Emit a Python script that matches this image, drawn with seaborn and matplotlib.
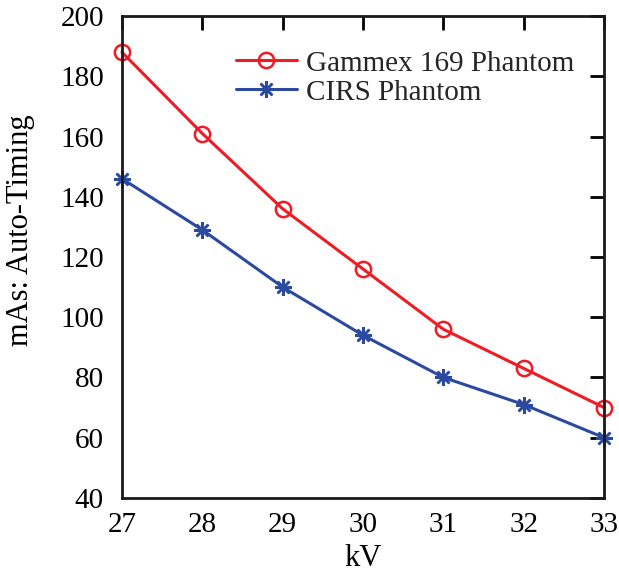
import matplotlib
matplotlib.use("Agg")
import matplotlib.pyplot as plt
import seaborn as sns
import pandas as pd

kv = [27, 28, 29, 30, 31, 32, 33]
gammex = [188, 161, 136, 116, 96, 83, 70]
cirs = [146, 129, 110, 94, 80, 71, 60]
series_names = ["Gammex 169 Phantom", "CIRS Phantom"]
x_ticks = [27, 28, 29, 30, 31, 32, 33]
y_ticks = [40, 60, 80, 100, 120, 140, 160, 180, 200]

sns.set_theme(style="white")
plt.rcParams['font.family'] = ['Liberation Serif', 'DejaVu Serif']

df = pd.DataFrame({
    "kV": kv * 2,
    "mAs": gammex + cirs,
    "series": [series_names[0]] * len(kv) + [series_names[1]] * len(kv),
})

fig = plt.figure(figsize=(6.19, 5.73), dpi=100)
ax = fig.add_axes([0.197, 0.131, 0.779, 0.841])

red = "#ee1c24"
blue = "#2b4a9f"
FS = 21

sns.lineplot(data=df[df.series == series_names[0]], x="kV", y="mAs", ax=ax,
             color=red, lw=2.2, marker="o", markersize=11, markerfacecolor="none",
             markeredgecolor=red, markeredgewidth=1.8, label=series_names[0],
             clip_on=False)
sns.lineplot(data=df[df.series == series_names[1]], x="kV", y="mAs", ax=ax,
             color=blue, lw=2.2, marker=(8, 2, 0), markersize=12,
             markeredgecolor=blue, markeredgewidth=1.8, label=series_names[1],
             clip_on=False)

ax.set_xlim(27, 33)
ax.set_ylim(40, 200)
ax.set_xticks(x_ticks)
ax.set_yticks(y_ticks)
ax.tick_params(axis="both", direction="in", length=10, width=2, labelsize=FS,
               top=True, right=True, colors="black")
ax.tick_params(axis="x", pad=10)
ax.tick_params(axis="y", pad=13)
for s in ax.spines.values():
    s.set_linewidth(2)
    s.set_color("#1a1a1a")
ax.set_xlabel("kV", fontsize=22)
ax.set_ylabel("mAs: Auto-Timing", fontsize=22)
ax.xaxis.set_label_coords(0.5, -0.095)
ax.yaxis.set_label_coords(-0.18, 0.556)
for c in [ax.xaxis.label, ax.yaxis.label]:
    c.set_color("black")

leg = ax.legend(loc="center left", bbox_to_anchor=(0.381, 0.864),
                bbox_transform=fig.transFigure, frameon=False,
                fontsize=FS, handlelength=2.1, handletextpad=0.3,
                labelspacing=0.09, borderaxespad=0, borderpad=0)
for line in leg.get_lines():
    line.set_linewidth(2.2)

sns.despine(ax=ax, top=False, right=False)
fig.savefig("out.png", dpi=100)
